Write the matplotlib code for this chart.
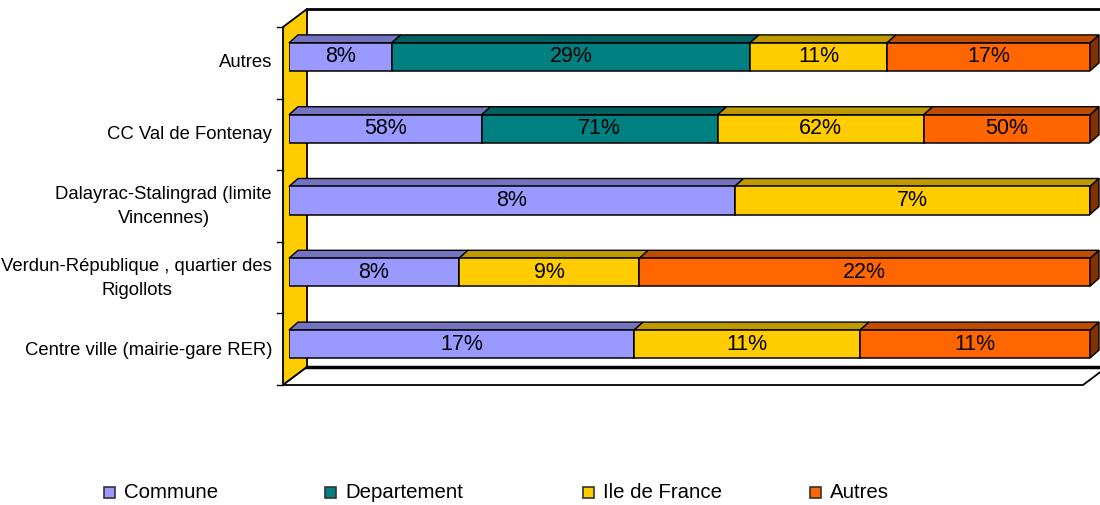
import matplotlib
matplotlib.use("Agg")
from matplotlib import pyplot
from matplotlib.patches import Polygon, Rectangle
import numpy as np

categories = ["Centre ville (mairie-gare RER)",
              "Verdun-République , quartier des\nRigollots",
              "Dalayrac-Stalingrad (limite\nVincennes)",
              "CC Val de Fontenay",
              "Autres"]
series = ["Commune", "Departement", "Ile de France", "Autres"]
commune = [16.8, 8.3, 8.4, 58, 8.4]
departement = [0, 0, 0, 71, 29.3]
ile_de_france = [11.0, 8.8, 6.7, 62, 11.2]
autres = [11.2, 22, 0, 50, 16.6]
colors = ["#9999FF", "#008080", "#FFCC00", "#FF6600"]

pyplot.rcParams['font.family'] = ['Liberation Sans', 'DejaVu Sans']

W, H = 1100, 505
fig = pyplot.figure(figsize=(11, 5.05), dpi=100)


def shade(color, k):
    rgb = np.array(matplotlib.colors.to_rgb(color))
    return tuple(rgb * k)


# background: walls and floor drawn in pixel space
bg = fig.add_axes([0, 0, 1, 1])
bg.set_xlim(0, W)
bg.set_ylim(H, 0)
bg.axis("off")

fx, ftop, fbot = 283, 27, 385     # front plane
ddx, ddy = 24, -18                # depth of the chart box
bg.add_patch(Polygon([(fx, ftop), (fx + ddx, ftop + ddy), (fx + ddx, fbot + ddy), (fx, fbot)],
                     closed=True, facecolor="#FFCC00", edgecolor="black", lw=1.3))
bg.add_patch(Polygon([(fx, fbot), (1083, fbot), (1083 + ddx, fbot + ddy), (fx + ddx, fbot + ddy)],
                     closed=True, facecolor="white", edgecolor="black", lw=1.3))
bg.plot([fx + ddx, W], [ftop + ddy, ftop + ddy], color="black", lw=2)
bg.plot([fx + ddx, W], [fbot + ddy, fbot + ddy], color="black", lw=2.5)
for k in range(len(categories) + 1):
    y = ftop + k * (fbot - ftop) / len(categories)
    bg.plot([fx - 6, fx], [y, y], color="black", lw=1)

# legend
leg_x = [104, 325, 583, 810]
for x, name, c in zip(leg_x, series, colors):
    bg.add_patch(Rectangle((x, 487), 11, 11, facecolor=c, edgecolor="#333333", lw=1.2))
    bg.text(x + 20, 493, name, fontsize=14.7, va="center", ha="left")

# main axes: front faces of bars
left_px, right_px, top_px, bot_px = 289, 1090, 21, 380
ax = fig.add_axes([left_px / W, (H - bot_px) / H, (right_px - left_px) / W, (bot_px - top_px) / H])
ax.set_xlim(0, 1)
ax.set_ylim(-0.5, len(categories) - 0.5)
ax.axis("off")
ax.patch.set_alpha(0)

data = np.array([commune, departement, ile_de_france, autres], dtype=float)
frac = data / data.sum(axis=0)
ypos = np.arange(len(categories))
bar_h = 0.39
px_x = 1.0 / (right_px - left_px)
px_y = len(categories) / (bot_px - top_px)
dx, dy = 9 * px_x, 8 * px_y

cum = np.zeros(len(categories))
last = len(series) - 1
for i, (name, c) in enumerate(zip(series, colors)):
    w = frac[i]
    ax.barh(ypos, w, left=cum, height=bar_h, color=c, edgecolor="black", lw=1.1, zorder=3)
    for j in ypos:
        x0, x1 = cum[j], cum[j] + w[j]
        yt = j + bar_h / 2
        yb = j - bar_h / 2
        # the last series closes the bar with its side face, even when empty
        if i == last:
            ax.add_patch(Polygon([(x1, yb), (x1 + dx, yb + dy), (x1 + dx, yt + dy), (x1, yt)],
                                 closed=True, facecolor=shade(c, 0.5), edgecolor="black",
                                 lw=1.0, zorder=2, clip_on=False))
        if w[j] <= 0:
            continue
        ax.add_patch(Polygon([(x0, yt), (x1, yt), (x1 + dx, yt + dy), (x0 + dx, yt + dy)],
                             closed=True, facecolor=shade(c, 0.75), edgecolor="black",
                             lw=1.0, zorder=2, clip_on=False))
        ax.text((x0 + x1) / 2, j, f"{data[i, j]:.0f}%", ha="center", va="center",
                fontsize=15.5, zorder=4)
    cum += w

for j, label in zip(ypos, categories):
    ax.text(-17 * px_x, j - 6 * px_y, label, ha="right", va="center",
            multialignment="center", fontsize=13.3, linespacing=1.55)

fig.savefig("out.png", dpi=100)
